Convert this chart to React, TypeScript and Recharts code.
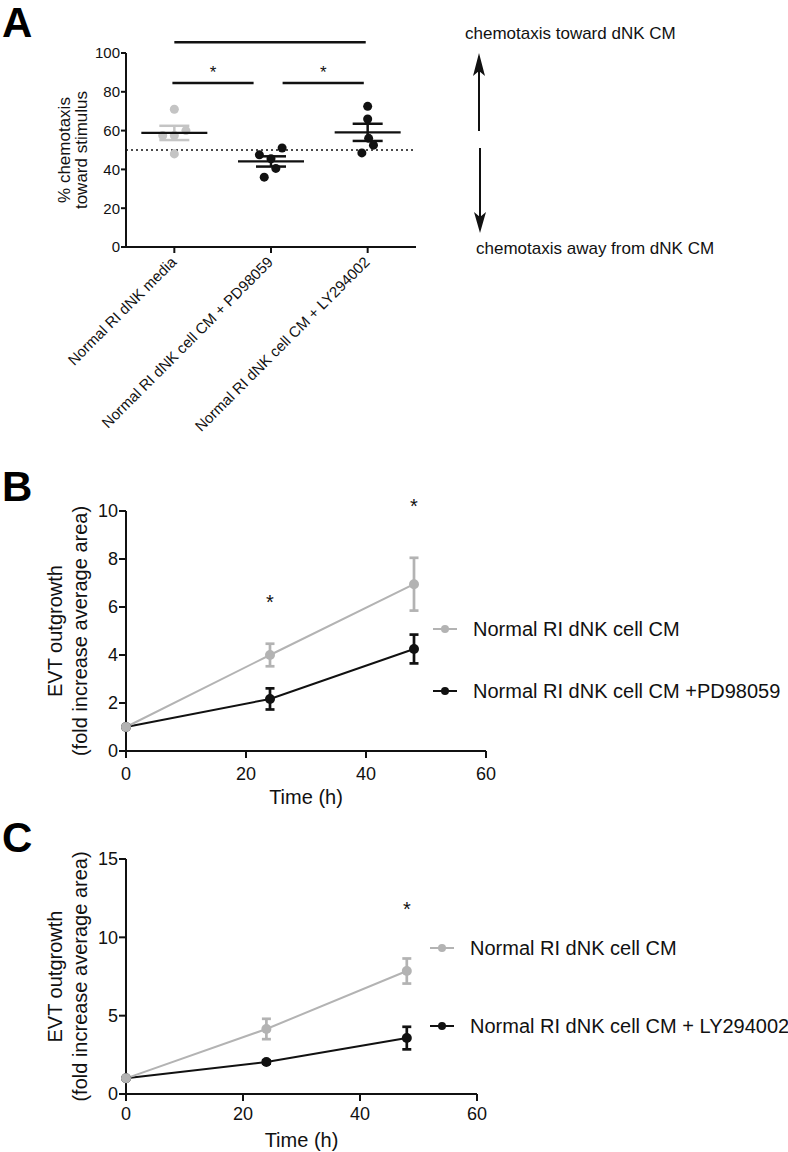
import React from "react";
import {
  ScatterChart,
  Scatter,
  ComposedChart,
  Line,
  XAxis,
  YAxis,
  ErrorBar,
  ReferenceLine,
  ReferenceDot,
  Label,
} from "recharts";

const FONT = "'Liberation Sans', Arial, Helvetica, sans-serif";
const INK = "#111";
const GRAY = "#b3b3b3";
const LIGHT = "#c4c4c4";

// ---- panel A: chemotaxis, one dot per donor ----
const groupLabels = [
  "Normal RI dNK media",
  "Normal RI dNK cell CM + PD98059",
  "Normal RI dNK cell CM + LY294002",
];
const mediaValues = [71, 57.5, 57.5, 60, 48];
const pdValues = [47.5, 45.5, 51, 40.5, 36];
const lyValues = [72.5, 66, 56, 52.5, 48.5];
// horizontal spread of the dots inside each column (in category units)
const mediaJitter = [0, -0.12, 0, 0.12, 0];
const pdJitter = [-0.12, 0, 0.115, 0.05, -0.07];
const lyJitter = [0, 0, 0.01, 0.06, -0.06];
const yTicksA = [0, 20, 40, 60, 80, 100];

// significance bars above panel A (value space)
const sigBars = [
  { from: 1, to: 2.98, level: 105.5, mark: "" },
  { from: 0.98, to: 1.82, level: 84.5, mark: "*" },
  { from: 2.12, to: 2.96, level: 84.5, mark: "*" },
];

// ---- panels B and C: EVT outgrowth over time ----
const timeHours = [0, 24, 48];
const bControlMean = [1, 4.0, 6.95];
const bControlSem = [0, 0.47, 1.1];
const bPdMean = [1, 2.17, 4.25];
const bPdSem = [0, 0.44, 0.6];
const bStars = [
  { t: 24, level: 6.2 },
  { t: 48, level: 10.2 },
];

const cControlMean = [1, 4.15, 7.85];
const cControlSem = [0, 0.65, 0.8];
const cLyMean = [1, 2.04, 3.57];
const cLySem = [0, 0.1, 0.72];
const cStars = [{ t: 48, level: 11.8 }];

const bSeries = [
  { name: "Normal RI dNK cell CM", color: GRAY },
  { name: "Normal RI dNK cell CM +PD98059", color: INK },
];
const cSeries = [
  { name: "Normal RI dNK cell CM", color: GRAY },
  { name: "Normal RI dNK cell CM + LY294002", color: INK },
];

function mean(v: number[]) {
  return v.reduce((a, b) => a + b, 0) / v.length;
}
function sem(v: number[]) {
  const m = mean(v);
  const sd = Math.sqrt(v.reduce((a, b) => a + (b - m) ** 2, 0) / (v.length - 1));
  return sd / Math.sqrt(v.length);
}

const dots = (vals: number[], jit: number[], g: number) =>
  vals.map((y, i) => ({ x: g + jit[i], y }));

const mediaPts = dots(mediaValues, mediaJitter, 1);
const darkPts = [...dots(pdValues, pdJitter, 2), ...dots(lyValues, lyJitter, 3)];
const mediaSummary = [{ x: 1, y: mean(mediaValues), err: sem(mediaValues) }];
const darkSummary = [
  { x: 2, y: mean(pdValues), err: sem(pdValues) },
  { x: 3, y: mean(lyValues), err: sem(lyValues) },
];

const bRows = timeHours.map((t, i) => ({
  t,
  ctrl: bControlMean[i],
  ctrlErr: bControlSem[i],
  drug: bPdMean[i],
  drugErr: bPdSem[i],
}));
const cRows = timeHours.map((t, i) => ({
  t,
  ctrl: cControlMean[i],
  ctrlErr: cControlSem[i],
  drug: cLyMean[i],
  drugErr: cLySem[i],
}));

const MeanBar = (props: any) => {
  const { cx, cy } = props;
  return <line x1={cx - 33} x2={cx + 33} y1={cy} y2={cy} stroke={INK} strokeWidth={2.2} />;
};

const GroupTick = (props: any) => {
  const { x, y, payload } = props;
  const label = groupLabels[Math.round(payload.value) - 1] ?? "";
  const ax = x + 3;
  const ay = y + 8;
  return (
    <text
      x={ax}
      y={ay}
      transform={`rotate(-45 ${ax} ${ay})`}
      textAnchor="end"
      fontSize={15}
      fill={INK}
      fontFamily={FONT}
    >
      {label}
    </text>
  );
};

const stackedLabel = (lines: string[], xs: number[], size: number) => (props: any) => {
  const vb = props.viewBox;
  const cy = vb.y + vb.height / 2;
  return (
    <g>
      {lines.map((t, i) => (
        <text
          key={i}
          x={xs[i]}
          y={cy}
          transform={`rotate(-90 ${xs[i]} ${cy})`}
          textAnchor="middle"
          dominantBaseline="central"
          fontSize={size}
          fill={INK}
          fontFamily={FONT}
        >
          {t}
        </text>
      ))}
    </g>
  );
};

const timeLabel = (props: any) => {
  const vb = props.viewBox;
  return (
    <text
      x={vb.x + vb.width / 2}
      y={vb.y + 46}
      textAnchor="middle"
      dominantBaseline="central"
      fontSize={20}
      fill={INK}
      fontFamily={FONT}
    >
      Time (h)
    </text>
  );
};

const axisStyle = { stroke: INK, strokeWidth: 2 };

function PanelA() {
  return (
    <ScatterChart width={440} height={480} margin={{ top: 53, right: 24, bottom: 0, left: 0 }}>
      <XAxis
        type="number"
        dataKey="x"
        domain={[0.5, 3.5]}
        ticks={[1, 2, 3]}
        height={233}
        tickSize={6}
        tickMargin={2}
        axisLine={axisStyle}
        tickLine={axisStyle}
        tick={<GroupTick />}
        interval={0}
      />
      <YAxis
        type="number"
        dataKey="y"
        domain={[0, 100]}
        ticks={yTicksA}
        width={126}
        tickSize={5}
        tickMargin={1}
        axisLine={axisStyle}
        tickLine={axisStyle}
        tick={{ fontSize: 15, fill: INK, fontFamily: FONT }}
      >
        <Label content={stackedLabel(["% chemotaxis", "toward stimulus"], [64, 81], 17)} />
      </YAxis>
      <ReferenceLine y={50} stroke={INK} strokeWidth={1.5} strokeDasharray="2 3" />
      {sigBars.map((b, i) => (
        <ReferenceLine
          key={i}
          segment={[
            { x: b.from, y: b.level },
            { x: b.to, y: b.level },
          ]}
          ifOverflow="visible"
          stroke={INK}
          strokeWidth={2.5}
          label={
            b.mark
              ? { value: b.mark, position: "top", offset: 5, fontSize: 17, fill: INK, fontFamily: FONT }
              : undefined
          }
        />
      ))}
      <Scatter data={mediaPts} fill={LIGHT} isAnimationActive={false} />
      <Scatter data={darkPts} fill={INK} isAnimationActive={false} />
      <Scatter data={mediaSummary} shape={<MeanBar />} isAnimationActive={false}>
        <ErrorBar dataKey="err" direction="y" width={15} stroke={LIGHT} strokeWidth={2.5} />
      </Scatter>
      <Scatter data={darkSummary} shape={<MeanBar />} isAnimationActive={false}>
        <ErrorBar dataKey="err" direction="y" width={15} stroke={INK} strokeWidth={2.5} />
      </Scatter>
    </ScatterChart>
  );
}

function OutgrowthChart(props: {
  rows: any[];
  height: number;
  top: number;
  right: number;
  bottom: number;
  axisH: number;
  tickGap: number;
  yMax: number;
  yTicks: number[];
  stars: { t: number; level: number }[];
}) {
  const { rows, height, top, right, bottom, axisH, tickGap, yMax, yTicks, stars } = props;
  return (
    <ComposedChart width={788} height={height} data={rows} margin={{ top, right, bottom, left: 0 }}>
      <XAxis
        type="number"
        dataKey="t"
        domain={[0, 60]}
        ticks={[0, 20, 40, 60]}
        height={axisH}
        tickSize={7}
        tickMargin={tickGap}
        axisLine={axisStyle}
        tickLine={axisStyle}
        tick={{ fontSize: 18, fill: INK, fontFamily: FONT }}
      >
        <Label content={timeLabel} />
      </XAxis>
      <YAxis
        type="number"
        domain={[0, yMax]}
        ticks={yTicks}
        width={126}
        tickSize={7}
        tickMargin={1}
        axisLine={axisStyle}
        tickLine={axisStyle}
        tick={{ fontSize: 18, fill: INK, fontFamily: FONT }}
      >
        <Label
          content={stackedLabel(["EVT outgrowth", "(fold increase average area)"], [55, 80], 20)}
        />
      </YAxis>
      <Line
        type="linear"
        dataKey="drug"
        stroke={INK}
        strokeWidth={2}
        dot={{ r: 5, fill: INK, stroke: INK, strokeWidth: 0 }}
        isAnimationActive={false}
      >
        <ErrorBar dataKey="drugErr" direction="y" width={4.5} stroke={INK} strokeWidth={2.7} />
      </Line>
      <Line
        type="linear"
        dataKey="ctrl"
        stroke={GRAY}
        strokeWidth={2}
        dot={{ r: 5, fill: GRAY, stroke: GRAY, strokeWidth: 0 }}
        isAnimationActive={false}
      >
        <ErrorBar dataKey="ctrlErr" direction="y" width={4.5} stroke={GRAY} strokeWidth={2.7} />
      </Line>
      {stars.map((s, i) => (
        <ReferenceDot
          key={i}
          x={s.t}
          y={s.level}
          r={0}
          fill="none"
          stroke="none"
          ifOverflow="visible"
          label={{ value: "*", position: "center", fontSize: 20, fill: INK, fontFamily: FONT }}
        />
      ))}
    </ComposedChart>
  );
}

function LegendBlock(props: {
  items: { name: string; color: string }[];
  ys: number[];
  x0: number;
}) {
  const { items, ys, x0 } = props;
  return (
    <g>
      {items.map((it, i) => (
        <g key={i}>
          <line x1={x0} x2={x0 + 24} y1={ys[i]} y2={ys[i]} stroke={it.color} strokeWidth={2} />
          <circle cx={x0 + 12} cy={ys[i]} r={4} fill={it.color} />
          <text
            x={x0 + 40}
            y={ys[i]}
            dominantBaseline="central"
            fontSize={20}
            fill={INK}
            fontFamily={FONT}
          >
            {it.name}
          </text>
        </g>
      ))}
    </g>
  );
}

export default function App() {
  return (
    <div
      style={{
        position: "absolute",
        left: 0,
        top: 0,
        width: 788,
        height: 1152,
        background: "#fff",
        fontFamily: FONT,
        overflow: "hidden",
      }}
    >
      <div style={{ position: "absolute", left: 0, top: 0 }}>
        <PanelA />
      </div>
      <div style={{ position: "absolute", left: 0, top: 460 }}>
        <OutgrowthChart
          rows={bRows}
          height={356}
          top={51}
          right={302}
          bottom={16}
          axisH={49}
          tickGap={9}
          yMax={10}
          yTicks={[0, 2, 4, 6, 8, 10]}
          stars={bStars}
        />
      </div>
      <div style={{ position: "absolute", left: 0, top: 800 }}>
        <OutgrowthChart
          rows={cRows}
          height={352}
          top={59}
          right={311}
          bottom={0}
          axisH={58}
          tickGap={6}
          yMax={15}
          yTicks={[0, 5, 10, 15]}
          stars={cStars}
        />
      </div>
      <svg
        width={788}
        height={1152}
        style={{ position: "absolute", left: 0, top: 0, pointerEvents: "none" }}
      >
        <g fontFamily={FONT} fontWeight="bold" fontSize={42} fill="#000">
          <text x={2} y={37}>A</text>
          <text x={2} y={501}>B</text>
          <text x={2} y={852}>C</text>
        </g>
        <g fontFamily={FONT} fontSize={17} fill={INK}>
          <text x={465} y={39}>chemotaxis toward dNK CM</text>
          <text x={476} y={254}>chemotaxis away from dNK CM</text>
        </g>
        <line x1={479} x2={479} y1={131} y2={70} stroke={INK} strokeWidth={2} />
        <polygon points="479,53 485,76 479,71 473,76" fill={INK} />
        <line x1={480} x2={480} y1={148} y2={217} stroke={INK} strokeWidth={2} />
        <polygon points="480,233 486,212 480,217 474,212" fill={INK} />
        <LegendBlock items={bSeries} ys={[629, 691]} x0={433} />
        <LegendBlock items={cSeries} ys={[948, 1026]} x0={430} />
      </svg>
    </div>
  );
}
